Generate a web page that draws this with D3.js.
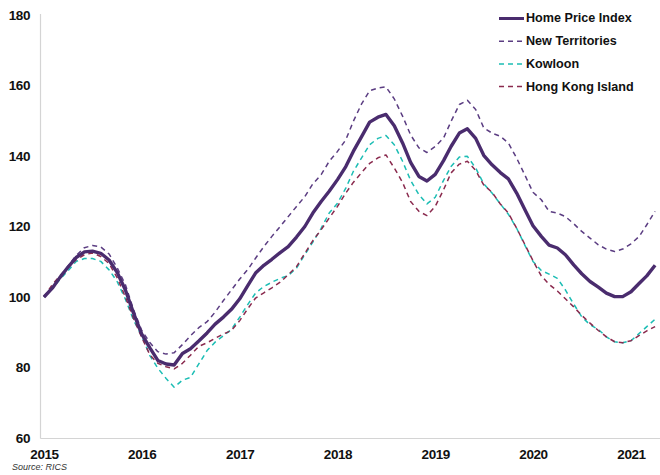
<!DOCTYPE html>
<html>
<head>
<meta charset="utf-8">
<script src="https://cdn.jsdelivr.net/npm/d3@7"></script>
<style>
  html, body { margin: 0; padding: 0; background: #fff; }
  svg { display: block; font-family: Arial, "Liberation Sans", Helvetica, sans-serif; }
</style>
</head>
<body>
<svg id="chart" width="660" height="475"></svg>
<script>
// Monthly index, January 2015 = 100, through April 2021
const startMonth = new Date(2015, 0, 1);
const endMonth = new Date(2021, 3, 1);

const homePriceIndex = [
  100, 102.5, 105.5, 108.5, 111.2, 112.8, 113, 112.4, 110.5, 107, 102, 95.5,
  89.5, 85.5, 82, 81, 80.7, 84, 85.3, 87.5, 89.8, 92.3, 94.3, 96.5,
  99.5, 103.4, 106.8, 109, 110.7, 112.6, 114.3, 117, 120, 123.8, 127.1, 130,
  133.3, 137, 141.3, 145.5, 149.6, 151, 151.8, 148.6, 143.7, 138.2, 134.2, 132.9,
  134.8, 138.7, 142.7, 146.5, 147.7, 145, 140.2, 137.5, 135.3, 133.5, 129.5, 124.9,
  120.2, 117.2, 114.7, 113.9, 112, 109.1, 106.6, 104.4, 102.8, 101.1, 100.1, 100.1,
  101.5, 103.9, 106, 109
];

const newTerritories = [
  100, 103, 105.5, 108.8, 111.8, 114, 114.6, 114.2, 112.2, 108.3, 103.5, 96.5,
  90.5, 87, 84.5, 83.8, 84.2, 86.5, 89, 91.3, 93, 95.7, 99, 102,
  105.1, 107.9, 111, 114.3, 117.2, 120, 122.8, 125.7, 128.5, 132.1, 134.7, 138.5,
  141.3, 144.6, 149.8, 154.8, 158.5, 159.3, 159.6, 156.2, 151.3, 146, 142.3, 141,
  142.7, 145.1, 149.8, 154.6, 155.8, 153.2, 148, 146.5, 145.6, 143.7, 139.4, 134.7,
  129.7, 127.6, 124.3, 123.8, 122.8, 120.8, 118.6, 116.7, 114.8, 113.6, 112.9, 113.6,
  115.1, 117.2, 120.5, 124.3
];

const kowloon = [
  100, 102.5, 104.9, 107.5, 110.1, 110.9, 110.9, 110.1, 107.7, 104.4, 99.4, 93.5,
  88.9, 83.3, 79.8, 76.9, 74.4, 76.4, 77.2, 81, 84.8, 87.2, 89, 90.8,
  94.3, 98, 101.1, 103, 104.2, 105.3, 106.1, 108.2, 112, 115.6, 119.5, 123.8,
  126.6, 130.9, 135.6, 139.5, 143.2, 145, 145.8, 143.2, 138.5, 133.1, 129, 126.4,
  128.3, 133.1, 137, 139.7, 139.9, 136.6, 132.1, 129.5, 126.4, 123.5, 119.5, 114.8,
  110.1, 107.5, 106.5, 105.3, 102, 98, 94.4, 92.1, 90.8, 88.7, 87.3, 87,
  87.6, 89.7, 91.6, 93.7
];

const hongKongIsland = [
  100, 103.5, 106, 108.5, 110.5, 112, 112.5, 111.5, 109.5, 105.5, 100, 94,
  88.5, 83.5, 81.2, 80.2, 79.6, 81.2, 83.5, 86, 87, 88.3, 89.5, 90.5,
  93.3, 96.8, 99.7, 101.2, 102.6, 104.2, 106.3, 108.6, 112.4, 116, 119.1, 122.4,
  125.7, 129.5, 132.5, 135.3, 137.9, 139.5, 140.3, 136.6, 132.5, 127.1, 124.3, 123.1,
  125.7, 130.4, 135.2, 137.7, 138.5, 135.9, 131.8, 129.7, 126.4, 123.8, 119.5, 115,
  110.3, 106, 103.6, 101.7, 99.5, 97.2, 94.8, 92.6, 90.5, 88.7, 87.3, 87,
  87.6, 89.1, 90.4, 91.6
];

const seriesNames = ["Home Price Index", "New Territories", "Kowloon", "Hong Kong Island"];
const yearLabels = ["2015", "2016", "2017", "2018", "2019", "2020", "2021"];
const yTickValues = [60, 80, 100, 120, 140, 160, 180];
const sourceNote = "Source: RICS";

const months = d3.timeMonth.range(startMonth, d3.timeMonth.offset(endMonth, 1));

const series = [
  { name: seriesNames[1], values: newTerritories, color: "#5b3d82", width: 1.5, dash: "5,4" },
  { name: seriesNames[2], values: kowloon, color: "#1bbdb4", width: 1.5, dash: "5,4" },
  { name: seriesNames[3], values: hongKongIsland, color: "#8a2a4e", width: 1.5, dash: "5,4" },
  { name: seriesNames[0], values: homePriceIndex, color: "#4a2c6e", width: 3.4, dash: null }
];

const svg = d3.select("#chart");
const axisColor = "#d4d4d4";

const x = d3.scaleTime()
  .domain([new Date(2015, 0, 1), new Date(2021, 0, 1)])
  .range([44, 631]);

const y = d3.scaleLinear()
  .domain([60, 180])
  .range([438, 15]);

// Axis lines
svg.append("line")
  .attr("x1", 40.5).attr("x2", 40.5)
  .attr("y1", 14).attr("y2", 438.5)
  .attr("stroke", axisColor).attr("stroke-width", 1.2);

svg.append("line")
  .attr("x1", 40.5).attr("x2", 660)
  .attr("y1", 438.5).attr("y2", 438.5)
  .attr("stroke", axisColor).attr("stroke-width", 1.2);

// Y tick labels
const yAxis = d3.axisLeft(y).tickValues(yTickValues).tickSize(0).tickPadding(0);
const yg = svg.append("g").attr("transform", "translate(30,0)").call(yAxis);
yg.select(".domain").remove();
yg.selectAll("text")
  .attr("font-family", "Arial, 'Liberation Sans', sans-serif")
  .attr("font-size", 13.5)
  .attr("font-weight", "bold")
  .attr("fill", "#111")
  .attr("letter-spacing", "-0.4px");

// X tick labels (years)
const yearDates = yearLabels.map(s => new Date(+s, 0, 1));
const xAxis = d3.axisBottom(x).tickValues(yearDates).tickFormat((d, i) => yearLabels[i]).tickSize(0).tickPadding(0);
const xg = svg.append("g").attr("transform", "translate(0,449)").call(xAxis);
xg.select(".domain").remove();
xg.selectAll("text")
  .attr("font-family", "Arial, 'Liberation Sans', sans-serif")
  .attr("font-size", 13.5)
  .attr("font-weight", "bold")
  .attr("fill", "#111")
  .attr("letter-spacing", "-0.4px");

// Series lines
const line = d3.line()
  .x((d, i) => x(months[i]))
  .y(d => y(d));

svg.append("g").selectAll("path")
  .data(series)
  .join("path")
  .attr("d", d => line(d.values))
  .attr("fill", "none")
  .attr("stroke", d => d.color)
  .attr("stroke-width", d => d.width)
  .attr("stroke-dasharray", d => d.dash)
  .attr("stroke-linejoin", "round");

// Legend
const legendOrder = [series[3], series[0], series[1], series[2]];
const legend = svg.append("g").attr("transform", "translate(499,18)");
const rows = legend.selectAll("g")
  .data(legendOrder)
  .join("g")
  .attr("transform", (d, i) => `translate(0,${i * 22.7})`);

rows.append("line")
  .attr("x1", 0).attr("x2", 25)
  .attr("y1", 0.5).attr("y2", 0.5)
  .attr("stroke", d => d.color)
  .attr("stroke-width", d => d.dash ? 1.5 : 3)
  .attr("stroke-dasharray", d => d.dash ? "5,4" : null);

rows.append("text")
  .attr("x", 27)
  .attr("y", 0)
  .attr("dy", "0.35em")
  .attr("font-family", "Arial, 'Liberation Sans', sans-serif")
  .attr("font-size", 12.6)
  .attr("font-weight", "bold")
  .attr("fill", "#111")
  .text(d => d.name);

// Source note
svg.append("text")
  .attr("x", 12)
  .attr("y", 470)
  .attr("font-family", "Arial, 'Liberation Sans', sans-serif")
  .attr("font-size", 9)
  .attr("font-style", "italic")
  .attr("fill", "#333")
  .text(sourceNote);
</script>
</body>
</html>
